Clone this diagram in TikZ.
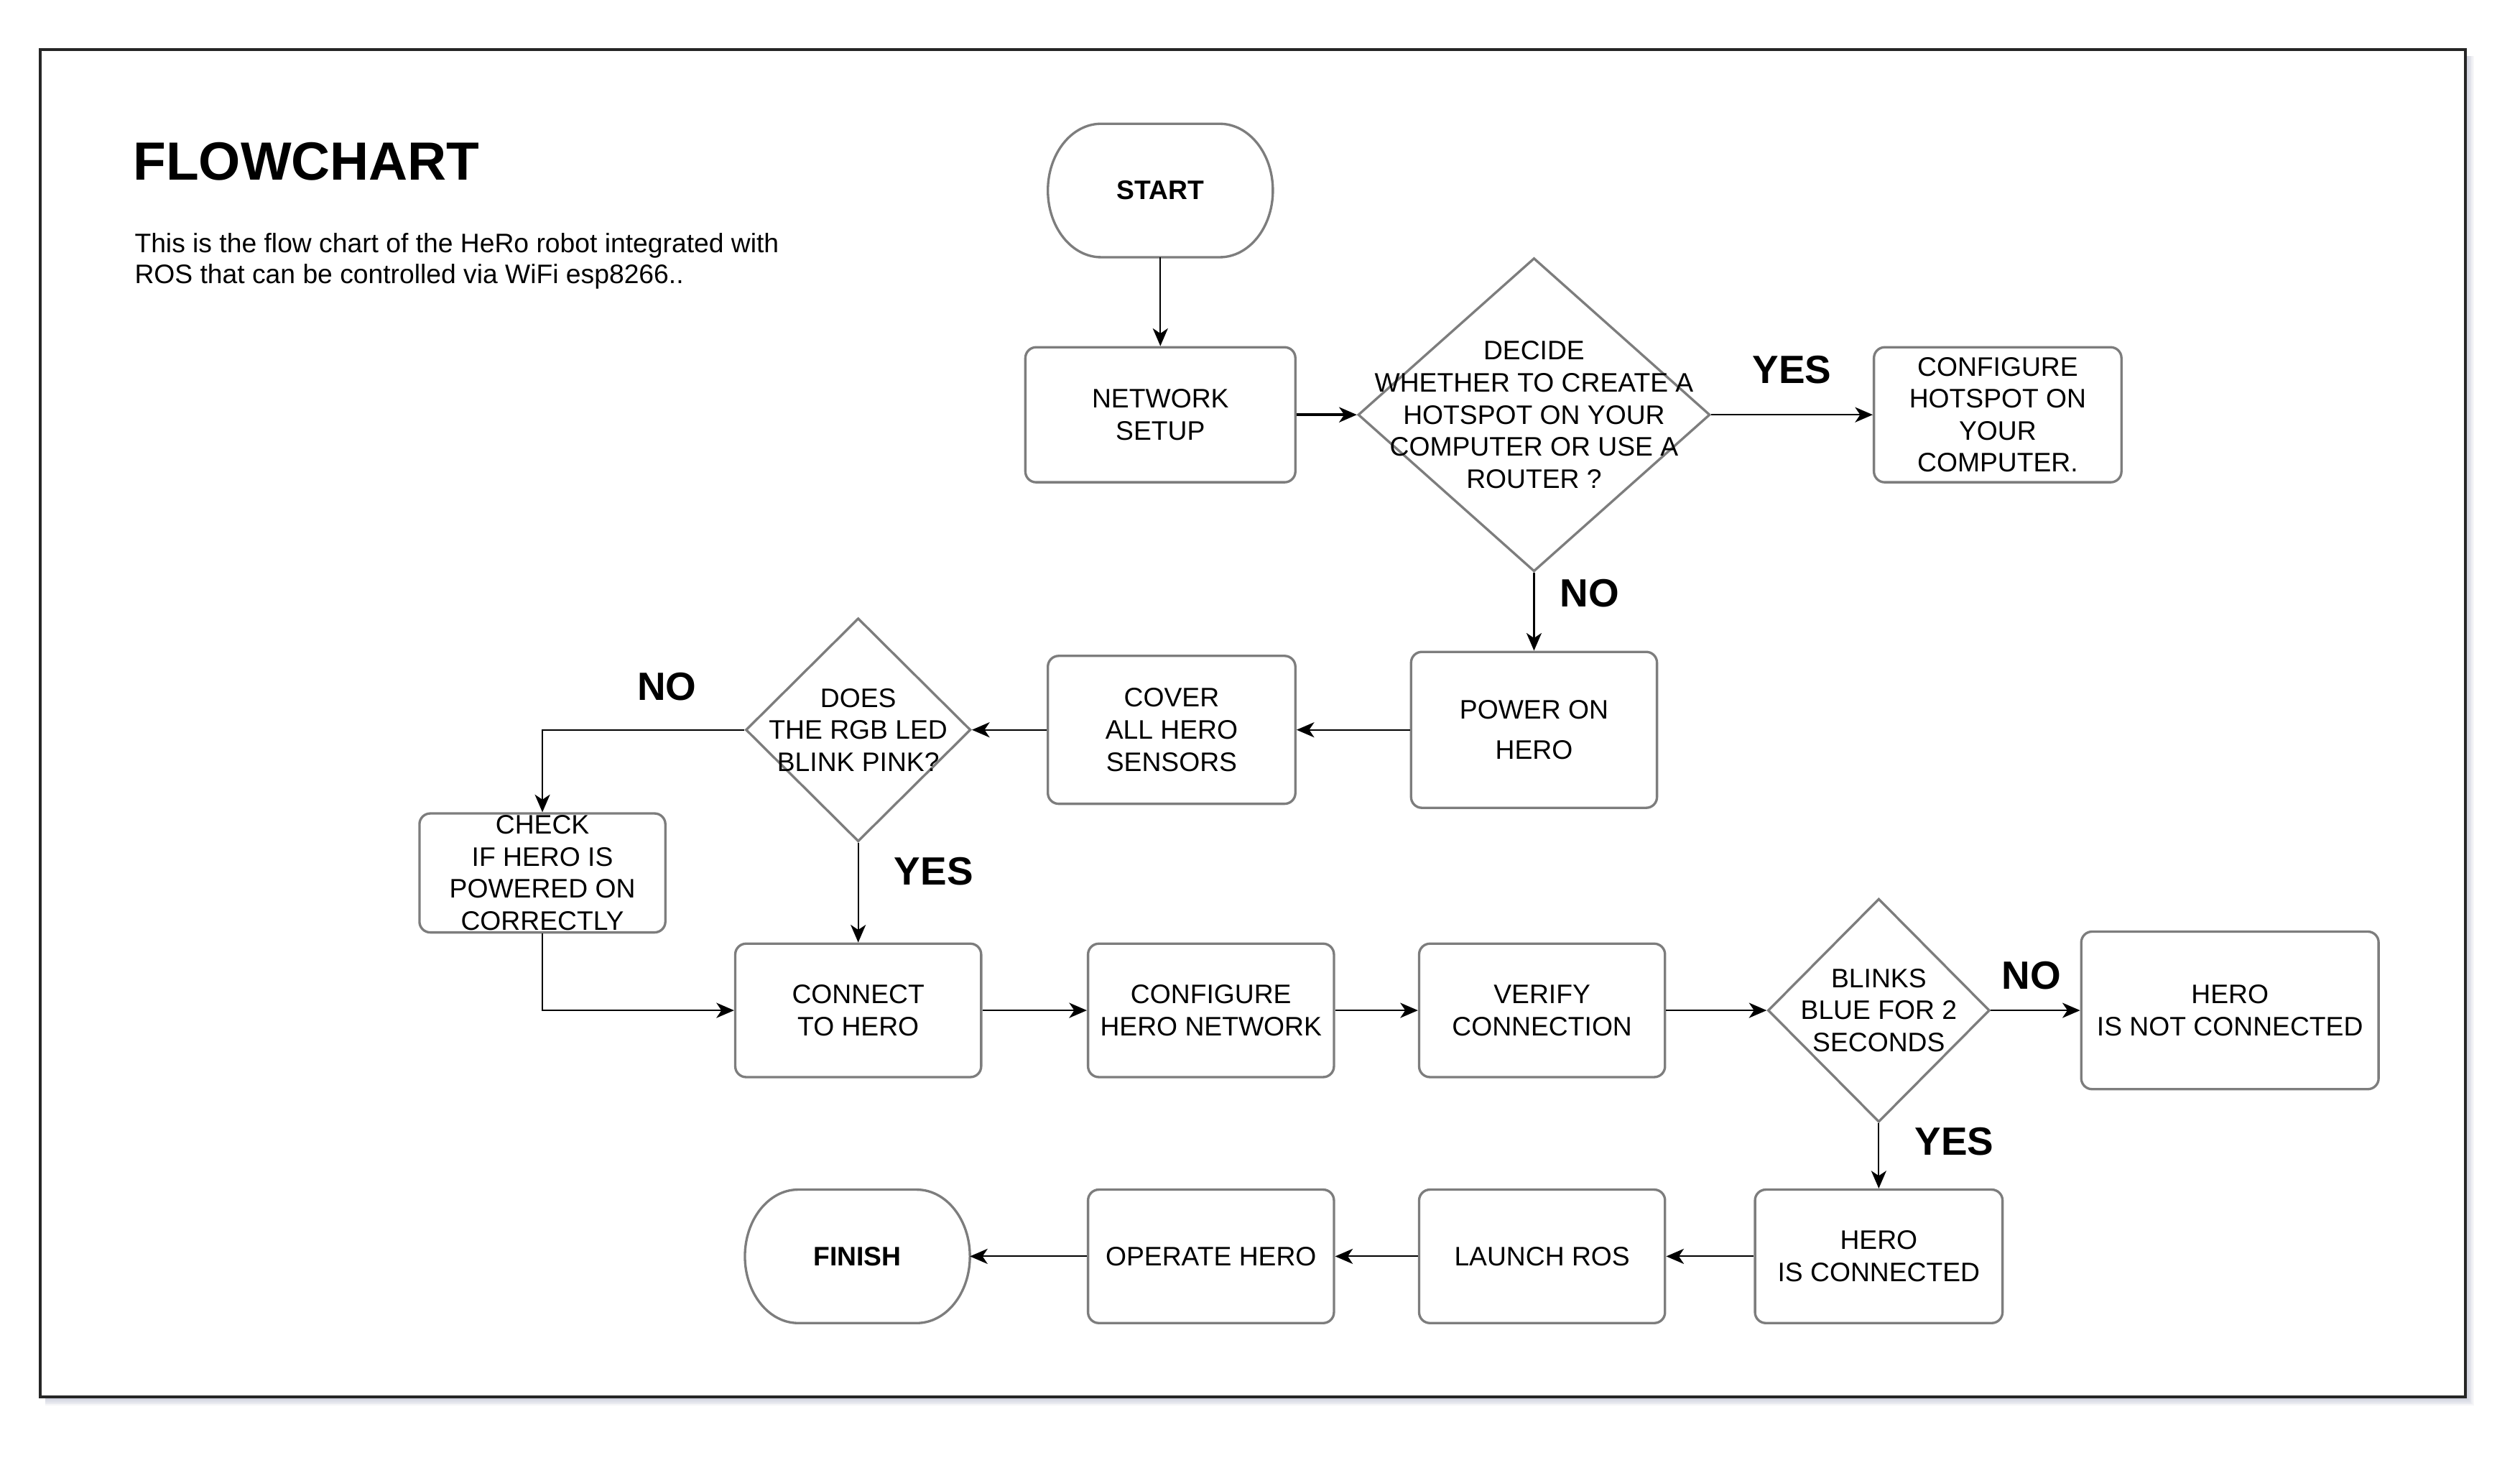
\documentclass[tikz,border=0pt]{standalone}
\usepackage{fontspec}
\setmainfont{Liberation Sans}
\usetikzlibrary{shapes.geometric,arrows.meta}

\definecolor{boxgray}{RGB}{125,125,125}
\definecolor{shadowblue}{RGB}{150,155,182}
\def\pxu{0.022372cm}

\tikzset{
  boxfont/.style={font=\fontsize{10.6}{12.7}\selectfont},
  outline/.style={draw=boxgray, line width=0.95pt},
  stepbox/.style={outline, rounded corners=0.15cm, fill=white,
    align=center, inner sep=0pt, boxfont},
  termbox/.style={inner sep=0pt, outer sep=0pt, align=center,
    font=\fontsize{10.6}{12.7}\selectfont\bfseries},
  decision/.style={outline, diamond, fill=white, inner sep=0pt},
  dtext/.style={align=center, inner sep=0pt, boxfont},
  answer/.style={font=\fontsize{15.6}{18}\selectfont\bfseries, inner sep=0pt},
  arr/.style={draw=black, line width=0.6pt, -{Stealth[length=7pt, width=6pt, inset=2pt]}},
  sz/.style 2 args={minimum width=#1*\pxu, minimum height=#2*\pxu},
}

% terminator outline: straight top and bottom, half-elliptic ends
\newcommand{\terminator}[1]{%
  \draw[outline] ([xshift=0.74cm]#1.north west) -- ([xshift=-0.74cm]#1.north east)
    arc[start angle=90, end angle=-90, x radius=0.74cm, y radius=0.9284cm]
    -- ([xshift=0.74cm]#1.south west)
    arc[start angle=270, end angle=90, x radius=0.74cm, y radius=0.9284cm] -- cycle;}

\begin{document}
\begin{tikzpicture}[x=0.022372cm, y=-0.022372cm]
\useasboundingbox (0,0) rectangle (1568,910);

% soft shadow to the right of and below the page frame
\foreach \k in {1,...,7}{
  \fill[shadowblue, opacity=0.09] (28,35) rectangle ({1534+0.75*\k},{869+0.75*\k});
}
% page frame
\draw[fill=white, line width=1pt, draw=black!85] (25,30.8) rectangle (1534,869);

% heading and description
\node[anchor=base west, inner sep=0pt, font=\fontsize{21.3}{25}\selectfont\bfseries]
  (title) at (82.5,112) {FLOWCHART};
\node[anchor=west, inner sep=0pt, align=left, font=\fontsize{10.6}{12.1}\selectfont]
  (desc) at (83.5,162.5) {This is the flow chart of the HeRo robot integrated with\\ROS that can be controlled via WiFi esp8266..};

% first column and the hotspot decision
\node[termbox, sz={140}{83}] (start) at (722,118.5) {START};
\terminator{start}
\node[stepbox, sz={168}{84}] (net) at (722,258) {NETWORK\\SETUP};
\node[decision, sz={219}{195}] (d1) at (954.5,258) {};
\node[dtext] (d1t) at (d1.center) {DECIDE\\WHETHER TO CREATE A\\HOTSPOT ON YOUR\\COMPUTER OR USE A\\ROUTER ?};
\node[stepbox, sz={154}{84}] (hot) at (1243,258) {CONFIGURE\\HOTSPOT ON\\YOUR\\COMPUTER.};

% second row
\node[stepbox, sz={153}{97}] (pow) at (954.5,454) {POWER ON\\[3.2pt]HERO};
\node[stepbox, sz={154}{92}] (cov) at (729,454) {COVER\\ALL HERO\\SENSORS};
\node[decision, sz={140}{139}] (d2) at (534,454) {};
\node[dtext] (d2t) at (d2.center) {DOES\\THE RGB LED\\BLINK PINK?};
\node[stepbox, sz={153}{74}] (chk) at (337.5,543) {CHECK\\IF HERO IS\\POWERED ON\\CORRECTLY};

% third row
\node[stepbox, sz={153}{83}] (con) at (534,628.5) {CONNECT\\TO HERO};
\node[stepbox, sz={153}{83}] (cfg) at (753.5,628.5) {CONFIGURE\\HERO NETWORK};
\node[stepbox, sz={153}{83}] (ver) at (959.5,628.5) {VERIFY\\CONNECTION};
\node[decision, sz={138}{139}] (d3) at (1169,628.5) {};
\node[dtext] (d3t) at (d3.center) {BLINKS\\BLUE FOR 2\\SECONDS};
\node[stepbox, sz={185}{98}] (nc) at (1387.5,628.5) {HERO\\IS NOT CONNECTED};

% last row
\node[stepbox, sz={154}{83}] (ic) at (1169,781.5) {HERO\\IS CONNECTED};
\node[stepbox, sz={153}{83}] (ros) at (959.5,781.5) {LAUNCH ROS};
\node[stepbox, sz={153}{83}] (op) at (753.5,781.5) {OPERATE HERO};
\node[termbox, sz={140}{83}] (fin) at (533.5,781.5) {FINISH};
\terminator{fin}

% answer labels
\node[answer] (yes1) at (1115,230) {YES};
\node[answer] (no1) at (989,369) {NO};
\node[answer] (no2) at (415,427) {NO};
\node[answer] (yes2) at (581,542) {YES};
\node[answer] (no3) at (1264,607) {NO};
\node[answer] (yes3) at (1216,710) {YES};

% connectors
\draw[arr] (start) -- (net);
\draw[arr, line width=1.1pt] (net) -- (d1);
\draw[arr] (d1) -- (hot);
\draw[arr] (d1) -- (pow);
\draw[arr] (pow) -- (cov);
\draw[arr] (cov) -- (d2);
\draw[arr] (d2.west) -| (chk.north);
\draw[arr] (d2) -- (con);
\draw[arr] (chk.south) |- (con.west);
\draw[arr] (con) -- (cfg);
\draw[arr] (cfg) -- (ver);
\draw[arr] (ver) -- (d3);
\draw[arr] (d3) -- (nc);
\draw[arr] (d3) -- (ic);
\draw[arr] (ic) -- (ros);
\draw[arr] (ros) -- (op);
\draw[arr] (op) -- (fin);
\end{tikzpicture}
\end{document}
